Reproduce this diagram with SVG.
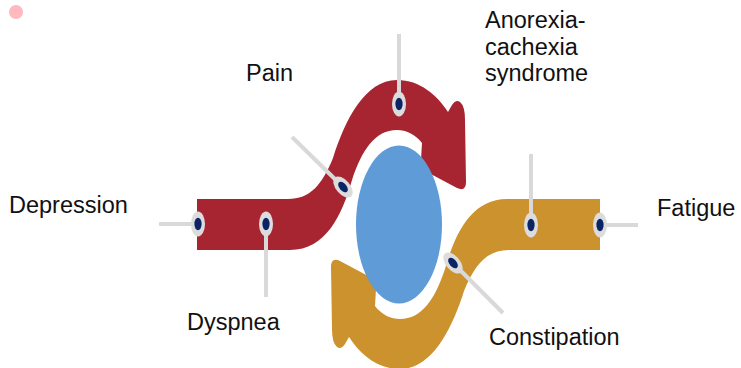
<svg xmlns="http://www.w3.org/2000/svg" xmlns:xlink="http://www.w3.org/1999/xlink" width="741" height="368" viewBox="0 0 741 368">
  <style>
    .lbl { font-family: "Liberation Sans", Arial, sans-serif; font-size: 23.5px; fill: #111; }
    .lead { stroke: #d9d9d9; stroke-width: 4; fill: none; }
    .pin-o { fill: #dcdcdc; }
    .pin-i { fill: #0b2466; }
  </style>
  <defs>
    <path id="sarrow" d="M197,199 L288,199 C310,199 322,185 333,158 C345,120 365,80 397,80 C420,80 437,95 448,112 L452,105 Q456,99 460,102 Q465,106 465,120 L466,182 Q466,192 457,188 L427,172 Q421,168 421,160 L422,143 C415,134 406,130 397,130 C375,130 362,150 352,180 C342,215 326,250 290,250 L197,250 Z"/>
    <g id="pin">
      <ellipse class="pin-o" cx="0" cy="0" rx="7" ry="12.5"/>
      <ellipse class="pin-i" cx="0" cy="0" rx="3.6" ry="6.2"/>
    </g>
  </defs>
  <rect width="741" height="368" fill="#ffffff"/>
  <circle cx="16" cy="12" r="7" fill="#ffb9bf"/>

  <g id="red-arrow">
    <use xlink:href="#sarrow" href="#sarrow" fill="#a62531"/>
  </g>
  <g id="yellow-arrow">
    <use xlink:href="#sarrow" href="#sarrow" fill="#cc922d" transform="rotate(180 398.5 224.5)"/>
  </g>
  <g id="center">
    <ellipse cx="399" cy="224.5" rx="43" ry="79" fill="#5f9bd7"/>
  </g>

  <g id="connectors">
    <line class="lead" x1="159" y1="224" x2="198" y2="224"/>
    <line class="lead" x1="266" y1="224" x2="266" y2="297"/>
    <line class="lead" x1="292" y1="137" x2="343" y2="187"/>
    <line class="lead" x1="399" y1="34" x2="399" y2="104"/>
    <line class="lead" x1="600" y1="225" x2="638" y2="225"/>
    <line class="lead" x1="531" y1="154" x2="531" y2="225"/>
    <line class="lead" x1="453" y1="263" x2="503" y2="313"/>
  </g>

  <g id="depression">
    <use xlink:href="#pin" href="#pin" transform="translate(198 224)"/>
    <text class="lbl" x="9" y="213">Depression</text>
  </g>
  <g id="dyspnea">
    <use xlink:href="#pin" href="#pin" transform="translate(266 224)"/>
    <text class="lbl" x="187" y="330">Dyspnea</text>
  </g>
  <g id="pain">
    <use xlink:href="#pin" href="#pin" transform="translate(343 187) rotate(-40)"/>
    <text class="lbl" x="246" y="81">Pain</text>
  </g>
  <g id="anorexia">
    <use xlink:href="#pin" href="#pin" transform="translate(399 104)"/>
    <text class="lbl" x="485" y="28">Anorexia-</text>
    <text class="lbl" x="485" y="55">cachexia</text>
    <text class="lbl" x="485" y="81">syndrome</text>
  </g>
  <g id="fatigue">
    <use xlink:href="#pin" href="#pin" transform="translate(600 225)"/>
    <text class="lbl" x="657" y="216">Fatigue</text>
  </g>
  <g id="bar-pin">
    <use xlink:href="#pin" href="#pin" transform="translate(531 225)"/>
  </g>
  <g id="constipation">
    <use xlink:href="#pin" href="#pin" transform="translate(453 263) rotate(-40)"/>
    <text class="lbl" x="489" y="345">Constipation</text>
  </g>
</svg>
